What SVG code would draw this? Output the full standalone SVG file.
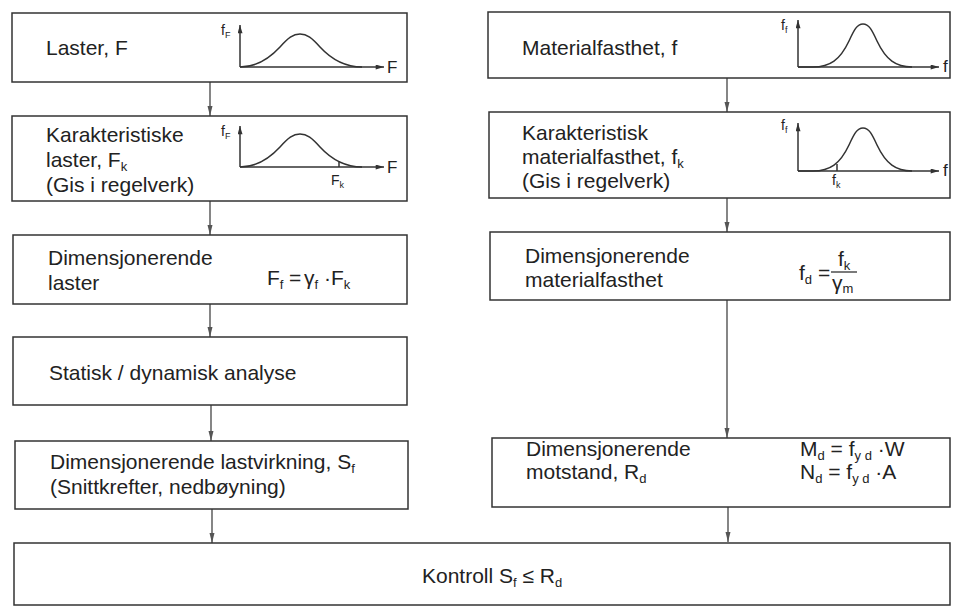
<svg xmlns="http://www.w3.org/2000/svg" width="957" height="608" viewBox="0 0 957 608">
<style>
.box{fill:#fff;stroke:#333;stroke-width:1.5}
.t{font-family:"Liberation Sans",Arial,sans-serif;font-size:21px;fill:#222}
.sub{font-size:13px}
.lbl{font-family:"Liberation Sans",Arial,sans-serif;font-size:17px;fill:#222}
.lbls{font-family:"Liberation Sans",Arial,sans-serif;font-size:14px;fill:#222}
.ssub{font-size:9px}
.conn{stroke:#444;stroke-width:1.3;fill:none;marker-end:url(#arr)}
.ax{stroke:#333;stroke-width:1.5;fill:none}
.axa{stroke:#333;stroke-width:1.5;fill:none;marker-end:url(#axh)}
.curve{stroke:#333;stroke-width:1.5;fill:none}
.frac{stroke:#222;stroke-width:1.2}
</style>
<defs>
<marker id="arr" viewBox="0 0 10 6" refX="10" refY="3" markerWidth="10" markerHeight="6" markerUnits="userSpaceOnUse" orient="auto"><path d="M0,0.5 L10,3 L0,5.5 z" fill="#555"/></marker>
<marker id="axh" viewBox="0 0 10 6" refX="10" refY="3" markerWidth="9" markerHeight="5" markerUnits="userSpaceOnUse" orient="auto"><path d="M0,0 L10,3 L0,6 z" fill="#333"/></marker>
</defs>

<g id="connectors">
<line class="conn" x1="210" y1="82" x2="210" y2="116"/>
<line class="conn" x1="210" y1="201" x2="210" y2="235"/>
<line class="conn" x1="210" y1="304" x2="210" y2="337"/>
<line class="conn" x1="211" y1="405" x2="211" y2="441"/>
<line class="conn" x1="212" y1="509" x2="212" y2="543"/>
<line class="conn" x1="727" y1="78" x2="727" y2="112"/>
<line class="conn" x1="727" y1="198" x2="727" y2="232"/>
<line class="conn" x1="727" y1="300" x2="727" y2="438"/>
<line class="conn" x1="728" y1="507" x2="728" y2="542"/>
</g>

<g id="laster">
<rect class="box" x="12" y="13" width="395" height="69"/>
<text class="t" x="46" y="55">Laster, F</text>
<line class="axa" x1="240" y1="67" x2="240" y2="25"/>
<line class="axa" x1="240" y1="67" x2="384" y2="67"/>
<path class="curve" d="M240,67 C255,67 268,60 280,47 C288,38 293,34 300,34 C307,34 312,38 320,47 C332,60 345,67 362,67"/>
<text class="lbl" x="387" y="73">F</text>
<text class="lbls" x="221" y="35">f<tspan class="ssub" dy="3">F</tspan></text>
</g>

<g id="karakteristiske-laster">
<rect class="box" x="12" y="116" width="395" height="85"/>
<text class="t" x="46" y="142">Karakteristiske</text>
<text class="t" x="46" y="167">laster, F<tspan class="sub" dy="4">k</tspan></text>
<text class="t" x="46" y="192">(Gis i regelverk)</text>
<line class="axa" x1="240" y1="167" x2="240" y2="126"/>
<line class="axa" x1="240" y1="167" x2="384" y2="167"/>
<path class="curve" d="M240,167 C255,167 268,160 280,147 C288,138 293,134 300,134 C307,134 312,138 320,147 C332,160 345,167 362,167"/>
<line class="ax" x1="339" y1="161" x2="339" y2="167" stroke-width="1"/>
<text class="lbl" x="387" y="173">F</text>
<text class="lbls" x="221" y="136">f<tspan class="ssub" dy="3">F</tspan></text>
<text class="lbls" x="331" y="185">F<tspan class="ssub" dy="3">k</tspan></text>
</g>

<g id="dim-laster">
<rect class="box" x="13" y="235" width="394" height="69"/>
<text class="t" x="48" y="265">Dimensjonerende</text>
<text class="t" x="48" y="290">laster</text>
<text class="t" x="267" y="285" font-size="20">F<tspan class="sub" dy="4">f</tspan><tspan dy="-4" x="289">=</tspan><tspan x="304">γ</tspan><tspan class="sub" dy="4">f</tspan><tspan dy="-4" x="324">·F</tspan><tspan class="sub" dy="4">k</tspan></text>
</g>

<g id="analyse">
<rect class="box" x="13" y="337" width="394" height="68"/>
<text class="t" x="49" y="380">Statisk / dynamisk analyse</text>
</g>

<g id="lastvirkning">
<rect class="box" x="15" y="441" width="393" height="68"/>
<text class="t" x="50" y="469">Dimensjonerende lastvirkning, S<tspan class="sub" dy="4">f</tspan></text>
<text class="t" x="50" y="494">(Snittkrefter, nedbøyning)</text>
</g>

<g id="materialfasthet">
<rect class="box" x="488" y="12" width="462" height="66"/>
<text class="t" x="522" y="55">Materialfasthet, f</text>
<line class="axa" x1="798" y1="67" x2="798" y2="20"/>
<line class="axa" x1="798" y1="67" x2="939" y2="67"/>
<path class="curve" d="M798,67 L813,67 C830,67 840,60 849,41 C854,30 857,24 863,24 C869,24 872,30 877,41 C886,60 896,67 912,67"/>
<text class="lbl" x="943" y="72">f</text>
<text class="lbls" x="781" y="30">f<tspan class="ssub" dy="3">f</tspan></text>
</g>

<g id="karakteristisk-materialfasthet">
<rect class="box" x="489" y="112" width="461" height="86"/>
<text class="t" x="522" y="140">Karakteristisk</text>
<text class="t" x="522" y="164">materialfasthet, f<tspan class="sub" dy="4">k</tspan></text>
<text class="t" x="522" y="188">(Gis i regelverk)</text>
<line class="axa" x1="798" y1="171" x2="798" y2="123"/>
<line class="axa" x1="798" y1="171" x2="939" y2="171"/>
<path class="curve" d="M798,171 L813,171 C830,171 840,164 849,145 C854,134 857,128 863,128 C869,128 872,134 877,145 C886,164 896,171 912,171"/>
<line class="ax" x1="837" y1="164" x2="837" y2="171" stroke-width="1"/>
<text class="lbl" x="943" y="176">f</text>
<text class="lbls" x="781" y="130">f<tspan class="ssub" dy="3">f</tspan></text>
<text class="lbls" x="832" y="185">f<tspan class="ssub" dy="3">k</tspan></text>
</g>

<g id="dim-materialfasthet">
<rect class="box" x="490" y="232" width="460" height="68"/>
<text class="t" x="525" y="263">Dimensjonerende</text>
<text class="t" x="525" y="287">materialfasthet</text>
<text class="t" x="799" y="280">f<tspan class="sub" dy="4">d</tspan><tspan dy="-4" x="818">=</tspan></text>
<line class="frac" x1="831" y1="272" x2="857" y2="272"/>
<text class="t" x="838" y="266" font-size="18">f<tspan class="sub" dy="4">k</tspan></text>
<text class="t" x="832" y="290" font-size="18">γ<tspan class="sub" dy="3">m</tspan></text>
</g>

<g id="motstand">
<rect class="box" x="492" y="438" width="458" height="69"/>
<text class="t" x="526" y="456">Dimensjonerende</text>
<text class="t" x="526" y="479">motstand, R<tspan class="sub" dy="4">d</tspan></text>
<text class="t" x="800" y="456">M<tspan class="sub" dy="4">d</tspan><tspan dy="-4"> = f</tspan><tspan class="sub" dy="4">y d</tspan><tspan dy="-4"> ·W</tspan></text>
<text class="t" x="800" y="479">N<tspan class="sub" dy="4">d</tspan><tspan dy="-4"> = f</tspan><tspan class="sub" dy="4">y d</tspan><tspan dy="-4"> ·A</tspan></text>
</g>

<g id="kontroll">
<rect class="box" x="14" y="543" width="936" height="62"/>
<text class="t" x="422" y="583">Kontroll S<tspan class="sub" dy="4">f</tspan><tspan dy="-4"> ≤ R</tspan><tspan class="sub" dy="4">d</tspan></text>
</g>
</svg>
